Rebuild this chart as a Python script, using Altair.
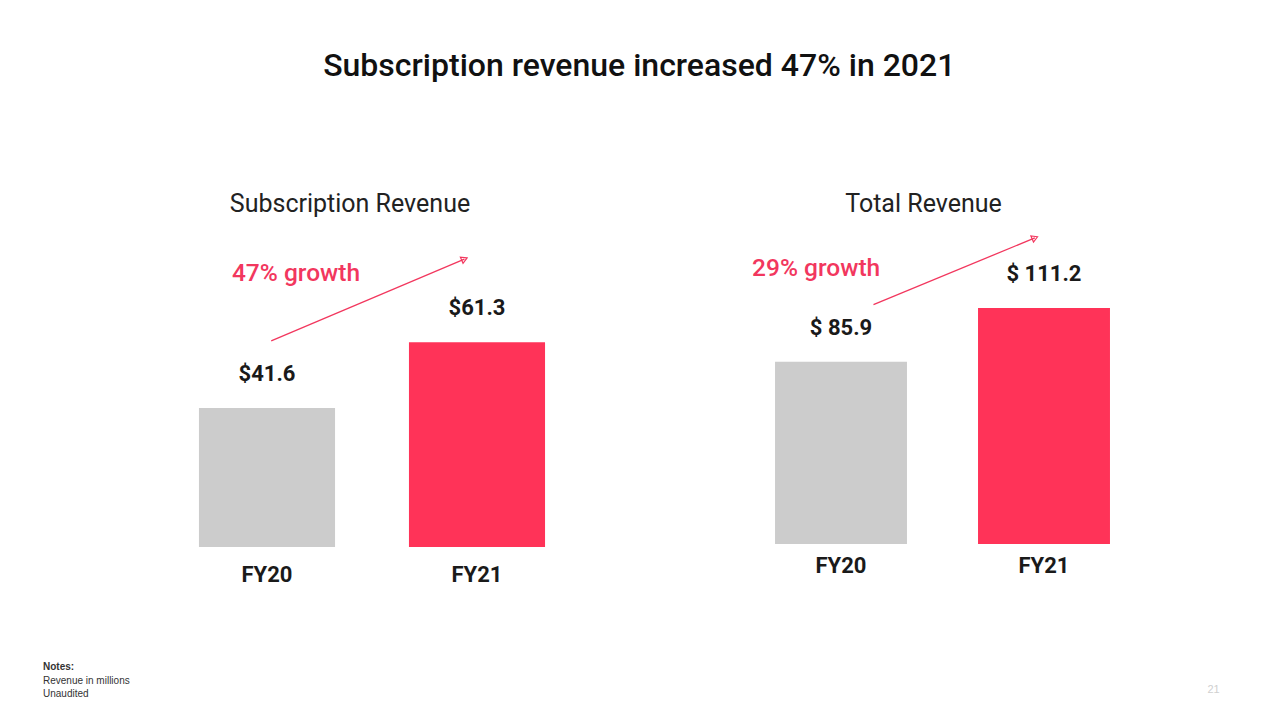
import altair as alt
import pandas as pd

# ---- data ----
years = ["FY20", "FY21"]
sub_rev = [41.6, 61.3]
tot_rev = [85.9, 111.2]
sub_labels = ["$41.6", "$61.3"]
tot_labels = ["$ 85.9", "$ 111.2"]
bar_colors = ["#cccccc", "#ff3358"]
growth_labels = ["47% growth", "29% growth"]
panel_titles = ["Subscription Revenue", "Total Revenue"]
notes = ["Notes:", "Revenue in millions", "Unaudited"]
page_number = "21"

# growth annotations (category-index units on x, value units on y)
sub_arrow = {"x0": 0.02, "y0": 61.7, "x1": 0.94, "y1": 86.2}
tot_arrow = {"x0": 0.16, "y0": 112.8, "x1": 0.955, "y1": 144.3}
sub_growth = {"x": -0.167, "y": 81.7}
tot_growth = {"x": -0.438, "y": 129.7}

RED = "#f2375e"
INK = "#1a1a1a"


def panel(values, labels, title, title_dx, ymax, width, height, pad_inner, pad_outer,
          label_pad, growth, gpos, arrow, extra=None):
    df = pd.DataFrame({"year": years, "value": values, "label": labels, "color": bar_colors})
    x = alt.X("year:N", sort=years,
              scale=alt.Scale(paddingInner=pad_inner, paddingOuter=pad_outer),
              axis=alt.Axis(title=None, labelAngle=0, domain=False, ticks=False, tickSize=0,
                            labelPadding=label_pad, labelFontSize=22, labelFontWeight="bold",
                            labelColor=INK, labelFont="Roboto", grid=False))
    yscale = alt.Scale(domain=[0, ymax], nice=False, zero=True)
    y = alt.Y("value:Q", scale=yscale, axis=None)

    bars = alt.Chart(df).mark_bar().encode(x=x, y=y, color=alt.Color("color:N", scale=None))
    vals = alt.Chart(df).mark_text(dy=-27, baseline="alphabetic", font="Roboto", fontSize=22,
                                   fontWeight="bold", color=INK).encode(x=x, y=y, text="label:N")

    qscale = alt.Scale(domain=[-0.5, 1.5], nice=False, zero=False)
    gdf = pd.DataFrame({"x": [gpos["x"]], "value": [gpos["y"]], "label": [growth]})
    gtext = alt.Chart(gdf).mark_text(align="left", baseline="middle", font="Roboto",
                                     fontSize=24.5, fontWeight=500, color=RED).encode(
        x=alt.X("x:Q", scale=qscale, axis=None), y=alt.Y("value:Q", axis=None), text="label:N")

    adf = pd.DataFrame([arrow])
    line = alt.Chart(adf).mark_rule(color=RED, strokeWidth=1.3).encode(
        x=alt.X("x0:Q", scale=qscale, axis=None), x2="x1:Q",
        y=alt.Y("y0:Q", axis=None), y2="y1:Q")
    head = alt.Chart(adf).mark_point(shape="triangle-right", angle=337, filled=False,
                                     size=45, color=RED, strokeWidth=1.2, opacity=1).encode(
        x=alt.X("x1:Q", scale=qscale, axis=None), y=alt.Y("y1:Q", axis=None))

    band_group = alt.layer(bars, vals)
    annot = [gtext, line, head]
    if extra is not None:
        annot += extra
    annot_group = alt.layer(*annot)
    return alt.layer(band_group, annot_group).resolve_scale(x="independent").properties(
        width=width, height=height,
        title=alt.Title(title, font="Roboto", fontSize=25, fontWeight="normal", color="#222222",
                        offset=9, dx=title_dx, anchor="middle"))


notes_layers = []
for i, t in enumerate(notes):
    notes_layers.append(
        alt.Chart(pd.DataFrame({"t": [t]})).mark_text(
            align="left", baseline="alphabetic", font="Liberation Sans", fontSize=10,
            fontWeight="bold" if i == 0 else "normal", color="#333333").encode(
            x=alt.value(-119), y=alt.value(444 + 13.5 * i), text="t:N"))

page_layer = [alt.Chart(pd.DataFrame({"t": [page_number]})).mark_text(
    align="center", baseline="alphabetic", font="Liberation Sans", fontSize=11,
    color="#d0d0d0").encode(x=alt.value(474), y=alt.value(467), text="t:N")]

left = panel(sub_rev, sub_labels, panel_titles[0], -22, 96.1, 420, 321, 0.352, 0.176, 17,
             growth_labels[0], sub_growth, sub_arrow, notes_layers)
right = panel(tot_rev, tot_labels, panel_titles[1], -19, 149.9, 406, 318, 0.35, 0.175, 11,
              growth_labels[1], tot_growth, tot_arrow, page_layer)

chart = alt.hconcat(left, right, spacing=157.5).properties(
    title=alt.Title("Subscription revenue increased 47% in 2021", font="Roboto", fontSize=32,
                    fontWeight=500, color="#111111", anchor="middle", offset=109, dx=8),
    padding={"left": 43, "top": 50, "right": 5, "bottom": 5},
    background="white",
).configure_view(stroke=None)

chart.save("out.html", embed_options={"renderer": "svg", "actions": False})
